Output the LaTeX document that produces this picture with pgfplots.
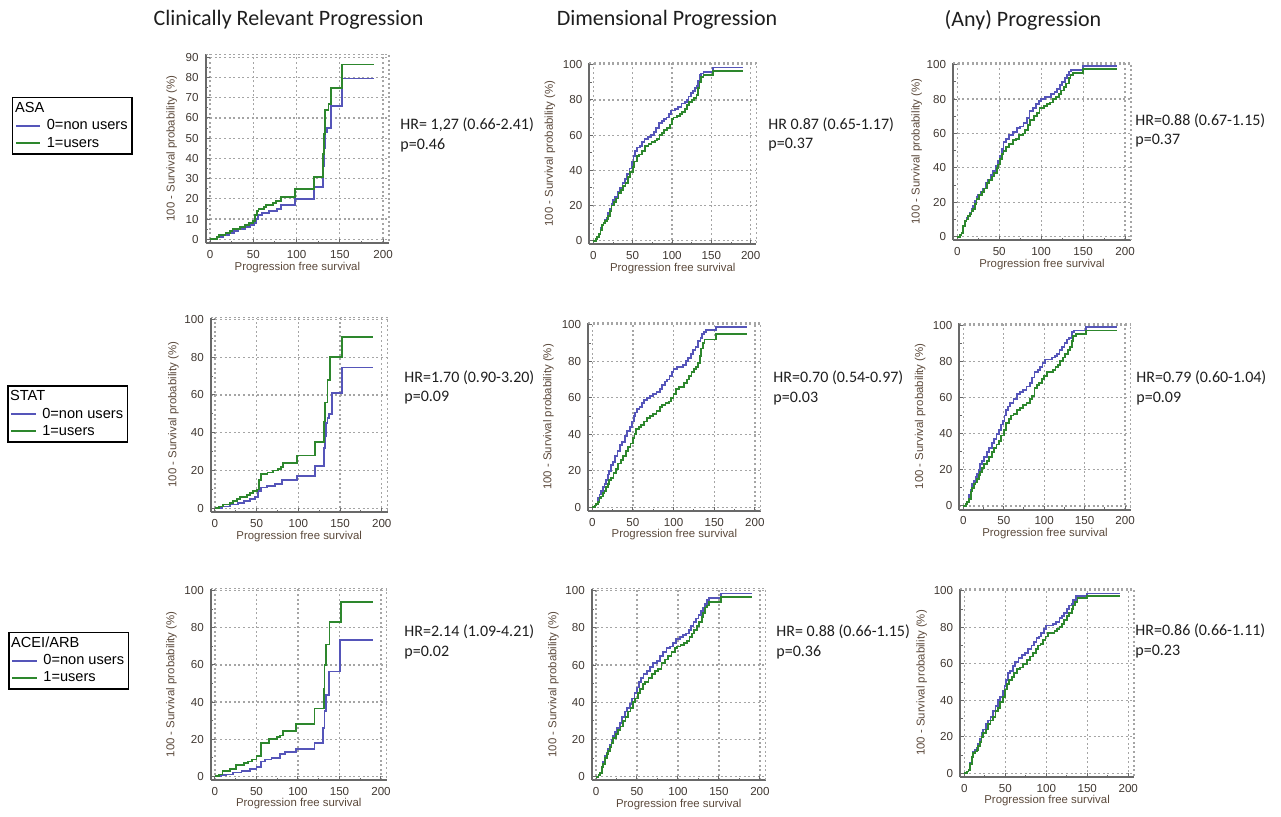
\documentclass[border=0pt]{standalone}
\usepackage{pgfplots}
\pgfplotsset{compat=1.18}
\usepackage{fontspec}
\setmainfont{Carlito}
\newfontfamily\arial{Liberation Sans}
\newcommand\tickfont{\arial\fontsize{5.8}{6.5}\selectfont}
\newcommand\labfont{\arial\fontsize{5.7}{6.5}\selectfont}
\newcommand\legfont{\arial\fontsize{7.3}{8.5}\selectfont}
\newcommand\hrfont{\fontsize{8}{9.6}\selectfont}
\newcommand\ttlfont{\fontsize{11}{13}\selectfont}
\definecolor{kmblue}{RGB}{85,85,185}
\definecolor{kmgreen}{RGB}{45,135,45}
\definecolor{axisgray}{RGB}{105,105,105}
\definecolor{gridgray}{RGB}{165,165,165}
\definecolor{tickcol}{RGB}{64,56,50}
\definecolor{labcol}{RGB}{90,72,58}
\definecolor{txtcol}{RGB}{30,30,30}
\pgfplotsset{
  km/.style={
    scale only axis, anchor=south west,
    xmin=-5, xmax=207, ymin=-2, ymax=101,
    xtick={0,50,100,150,200}, ytick={0,20,40,60,80,100},
    minor x tick num=1, minor y tick num=1,
    axis x line*=bottom, axis y line*=left,
    axis line style={draw=axisgray, line width=1pt},
    x axis line style={-}, y axis line style={-},
    grid=major, major grid style={dash pattern=on 1pt off 1.3pt, gridgray, line width=0.6pt},
    tick align=inside, major tick length=2pt, minor tick length=1.2pt,
    tick style={axisgray, line width=0.5pt},
    tick label style={font=\tickfont, text=tickcol},
    /pgf/number format/assume math mode=true,
    xlabel={Progression free survival},
    ylabel={100 - Survival probability (\%)},
    label style={font=\labfont, text=labcol},
    xlabel style={at={(axis description cs:0.5,0)}, anchor=center, yshift=-12pt},
    ylabel style={anchor=center},
    after end axis/.code={\draw[dash pattern=on 1pt off 1.3pt, gridgray, line width=0.6pt] (rel axis cs:0,1) -- (rel axis cs:1,1) -- (rel axis cs:1,0);},
    legend style={anchor=north west, draw=black, line width=0.8pt, font=\legfont, fill=white,
      inner xsep=1.2pt, inner ysep=1.2pt, row sep=0pt, column sep=1.8pt,
      nodes={font=\legfont, inner xsep=1pt, inner ysep=0.8pt, text height=5.5pt, text depth=1.5pt}},
    legend cell align=left,
  },
  kmline/.style={const plot, no marks, line width=0.9pt,
    legend image code/.code={\draw[##1] (0pt,0pt) -- (12.3pt,0pt);}},
  kb/.style={kmline, color=kmblue},
  kg/.style={kmline, color=kmgreen},
}
\begin{document}
\begin{tikzpicture}
\path[use as bounding box] (0pt,0pt) rectangle (640.5pt,-408pt);

% column titles
\node[font=\ttlfont, text=txtcol] at (144.25pt,-10pt) {Clinically Relevant Progression};
\node[font=\ttlfont, text=txtcol] at (333.5pt,-10pt) {Dimensional Progression};
\node[font=\ttlfont, text=txtcol] at (511.5pt,-10pt) {(Any) Progression};

% ===== Row 1: ASA =====
\begin{axis}[km, at={(102.85pt,-121.65pt)}, width=91.7pt, height=94.5pt,
  ymax=91.5, ytick={0,10,20,30,40,50,60,70,80,90},
  ylabel style={at={(axis description cs:-0.185,0.5)}},
  legend style={at={(axis description cs:-1.058,0.775)}}]
\addlegendimage{empty legend}\addlegendentry{\hspace{-16.1pt}ASA}
\addplot[kb] coordinates {(0,0) (8,1) (15,2) (22,3) (28,4) (33,5) (40,6) (46,7) (51,8) (53,10) (55,12) (60,13) (68,14) (77,15) (82,17) (98,20) (120,26) (131,36) (132,45) (133,53) (135,55) (140,66) (153,79.5) (190,79.5)};
\addlegendentry{0=non users\hspace{4pt}}
\addplot[kg] coordinates {(0,0) (8,1) (10,2) (18,3) (23,4) (26,5) (35,6) (40,7) (45,8) (50,9) (52,12) (54,14) (56,15) (62,16) (65,17) (73,18) (76,19) (82,21) (98,25) (120,31) (131,42) (132,52) (133,64) (137,67) (140,75) (153,86.5) (190,86.5)};
\addlegendentry{1=users}
\end{axis}

\begin{axis}[km, at={(294.7pt,-122.1pt)}, width=83.4pt, height=90.6pt,
  ylabel style={at={(axis description cs:-0.236,0.5)}}]
\addplot[kb] coordinates {(0,0) (3,1) (5,2) (7,4) (9,7) (11,9) (13,10) (15,12) (17,13) (19,16) (21,18) (23,21) (25,23) (28,25) (31,28) (34,30) (37,33) (40,35) (43,38) (46,41) (49,45) (51,48) (53,51) (55,53) (59,54) (62,56) (65,58) (69,59) (73,60) (77,62) (80,64) (83,67) (87,68) (90,69) (93,70) (96,72) (99,74) (104,75) (108,76) (112,78) (116,79) (119,80) (121,82) (124,84) (127,85) (129,87) (131,88) (133,91) (135,94) (137,95) (140,96) (152,98.5) (190,98.5)};
\addplot[kg] coordinates {(0,0) (3,1) (5,2) (7,4) (9,6) (11,9) (13,10) (15,11) (17,12) (19,14) (21,17) (23,20) (26,22) (29,24) (32,27) (35,29) (38,31) (41,33) (44,36) (47,39) (50,42) (52,45) (55,48) (58,49) (62,51) (66,54) (70,55) (74,56) (78,57) (81,58) (84,60) (87,61) (90,63) (94,64) (97,66) (100,69) (102,70) (106,71) (110,72) (113,73) (116,75) (119,77) (122,79) (125,80) (128,81) (131,83) (133,87) (135,90) (137,93) (140,94) (152,96.5) (190,96.5)};
\end{axis}

\begin{axis}[km, at={(476.55pt,-120.05pt)}, width=88.9pt, height=88.6pt,
  ylabel style={at={(axis description cs:-0.205,0.5)}}]
\addplot[kb] coordinates {(0,0) (3,1) (5,2) (7,6) (9,9) (11,11) (13,12) (15,14) (17,16) (19,18) (21,21) (23,23) (25,24) (28,26) (31,28) (34,31) (37,33) (40,36) (43,38) (46,41) (49,44) (51,47) (53,51) (55,55) (58,57) (62,59) (66,61) (71,63) (75,64) (79,66) (83,69) (86,73) (90,75) (94,77) (97,79) (100,80) (105,81) (109,81) (112,83) (116,84) (119,86) (122,88) (125,90) (128,92) (131,94) (133,96) (136,97) (150,99) (190,99)};
\addplot[kg] coordinates {(0,0) (3,1) (5,2) (7,6) (9,9) (11,10) (13,12) (15,13) (17,15) (19,16) (21,19) (23,22) (26,24) (29,26) (32,28) (35,31) (38,33) (41,35) (44,37) (47,40) (49,42) (51,45) (53,48) (55,50) (58,52) (62,54) (66,56) (70,57) (74,59) (78,60) (81,62) (84,65) (87,68) (91,70) (95,72) (98,75) (103,76) (107,77) (111,78) (114,80) (118,81) (121,83) (124,85) (127,87) (130,89) (133,92) (135,94) (138,95) (150,97.5) (190,97.5)};
\end{axis}

% ===== Row 2: STAT =====
\begin{axis}[km, at={(105.4pt,-256.05pt)}, width=88.4pt, height=97.3pt,
  ylabel style={at={(axis description cs:-0.212,0.5)}},
  legend style={at={(axis description cs:-1.152,0.653)}}]
\addlegendimage{empty legend}\addlegendentry{\hspace{-16.1pt}STAT}
\addplot[kb] coordinates {(0,0) (8,1) (18,2) (28,3) (35,4) (42,5) (48,6) (52,9) (55,11) (62,12) (72,13) (80,15) (98,17) (120,22.5) (131,32) (132,38) (133,45) (135,48) (137,50) (140,61) (152,74.5) (190,74.5)};
\addlegendentry{0=non users\hspace{4pt}}
\addplot[kg] coordinates {(0,0) (5,1) (10,2) (18,3) (22,4) (26,5) (30,6) (38,7) (42,8) (46,9) (50,10) (53,15) (55,18) (63,19) (70,20) (76,21) (79,22) (82,24) (98,28) (120,35) (131,46) (132,56) (135,68) (138,80) (152,90.5) (190,90.5)};
\addlegendentry{1=users}
\end{axis}

\begin{axis}[km, at={(294.1pt,-255.5pt)}, width=86.2pt, height=94pt,
  ylabel style={at={(axis description cs:-0.231,0.5)}}]
\addplot[kb] coordinates {(0,0) (3,1) (5,2) (7,5) (9,7) (11,9) (13,11) (15,13) (17,15) (19,18) (21,20) (23,23) (25,25) (28,28) (31,31) (34,34) (37,36) (40,39) (43,42) (46,44) (49,47) (51,50) (53,52) (55,54) (58,55) (61,57) (64,59) (67,60) (71,61) (75,62) (79,63) (83,65) (86,67) (89,69) (92,70) (95,72) (98,74) (100,76) (104,77) (108,77) (112,78) (115,80) (118,82) (121,84) (124,86) (127,88) (130,91) (133,93) (135,95) (137,96) (140,97) (152,99) (190,99)};
\addplot[kg] coordinates {(0,0) (3,1) (5,2) (7,3) (9,5) (11,6) (13,8) (15,9) (17,11) (19,13) (21,15) (23,16) (26,19) (29,21) (32,24) (35,26) (38,28) (41,31) (44,33) (47,35) (50,38) (52,40) (54,43) (57,44) (60,45) (64,47) (67,49) (71,50) (75,51) (79,53) (83,55) (86,56) (90,57) (94,58) (97,60) (100,62) (103,65) (107,66) (110,66) (113,68) (116,70) (119,72) (122,74) (125,76) (128,77) (130,79) (132,83) (134,87) (136,90) (138,92) (152,95) (190,95)};
\end{axis}

\begin{axis}[km, at={(479.65pt,-254.8pt)}, width=85.7pt, height=93.2pt,
  ylabel style={at={(axis description cs:-0.229,0.5)}}]
\addplot[kb] coordinates {(0,0) (3,1) (5,2) (7,6) (9,9) (11,12) (13,14) (15,16) (17,18) (19,20) (21,23) (23,25) (26,27) (29,30) (32,32) (35,35) (38,37) (41,40) (44,42) (47,45) (49,47) (51,50) (53,53) (55,55) (58,57) (62,59) (66,62) (70,63) (74,64) (78,66) (82,68) (85,71) (88,74) (92,75) (95,77) (98,79) (101,81) (106,81) (110,82) (113,83) (116,84) (119,86) (122,88) (125,90) (128,92) (131,93) (134,96) (137,97) (152,99) (190,99)};
\addplot[kg] coordinates {(0,0) (3,1) (5,2) (7,4) (9,8) (11,10) (13,12) (15,13) (17,15) (19,17) (21,19) (23,21) (26,23) (29,25) (32,27) (35,30) (38,32) (41,34) (44,36) (47,39) (50,42) (53,46) (56,48) (59,50) (62,51) (66,53) (70,54) (74,56) (78,57) (82,59) (85,61) (88,65) (91,67) (94,68) (97,70) (100,72) (103,74) (107,74) (111,75) (114,77) (117,78) (120,80) (123,82) (126,84) (129,86) (132,88) (134,91) (136,94) (139,95) (152,97) (190,97)};
\end{axis}

% ===== Row 3: ACEI/ARB =====
\begin{axis}[km, at={(105.4pt,-390pt)}, width=88pt, height=95.6pt,
  ylabel style={at={(axis description cs:-0.223,0.5)}},
  legend style={at={(axis description cs:-1.151,0.776)}}]
\addlegendimage{empty legend}\addlegendentry{\hspace{-16.1pt}ACEI/ARB}
\addplot[kb] coordinates {(0,0) (8,0.5) (14,1) (22,2) (32,3) (42,4) (50,5) (55,8) (60,9) (68,10) (78,12) (84,13) (98,14.5) (120,18) (130,26) (132,35) (134,44) (137,56.5) (151,73.5) (190,73.5)};
\addlegendentry{0=non users\hspace{4pt}}
\addplot[kg] coordinates {(0,0) (5,1) (9,3) (18,4) (25,6) (35,7) (40,8) (45,9) (50,11) (55,18) (65,20) (75,21) (78,22) (82,24.5) (98,28) (120,36.5) (131,47) (132,60) (134,71) (138,83) (152,94) (190,94)};
\addlegendentry{1=users}
\end{axis}

\begin{axis}[km, at={(295.95pt,-390.2pt)}, width=86.9pt, height=95.8pt,
  ylabel style={at={(axis description cs:-0.222,0.5)}}]
\addplot[kb] coordinates {(0,0) (3,1) (5,2) (7,5) (9,8) (11,11) (13,13) (15,15) (17,17) (19,20) (21,22) (23,24) (26,26) (29,29) (32,32) (35,35) (38,37) (41,39) (44,42) (47,45) (50,48) (52,51) (55,53) (58,55) (62,57) (66,59) (70,61) (74,62) (78,65) (82,67) (86,69) (90,70) (94,72) (98,74) (102,75) (106,76) (110,77) (113,79) (116,81) (119,83) (122,85) (125,87) (128,89) (131,91) (133,93) (135,95) (138,96) (152,98.5) (190,98.5)};
\addplot[kg] coordinates {(0,0) (3,1) (5,2) (7,5) (9,7) (11,10) (13,12) (15,14) (17,16) (19,18) (21,21) (24,23) (27,25) (30,27) (33,30) (36,32) (39,35) (42,37) (45,40) (48,42) (51,45) (54,47) (57,50) (60,51) (64,53) (68,55) (72,57) (76,58) (80,61) (84,63) (88,65) (92,67) (96,69) (99,70) (103,71) (107,72) (111,73) (114,75) (117,77) (120,79) (123,81) (126,83) (129,86) (131,88) (133,91) (135,92) (138,94) (152,96.5) (190,96.5)};
\end{axis}

\begin{axis}[km, at={(480.1pt,-388.5pt)}, width=86.9pt, height=94pt,
  ylabel style={at={(axis description cs:-0.222,0.5)}}]
\addplot[kb] coordinates {(0,0) (3,1) (5,2) (7,6) (9,9) (11,12) (13,13) (15,14) (17,16) (19,19) (21,22) (23,24) (26,27) (29,29) (32,31) (35,34) (38,37) (41,40) (44,42) (47,45) (49,48) (51,51) (53,55) (56,56) (59,59) (62,61) (66,63) (70,65) (74,66) (78,68) (82,70) (85,72) (88,74) (91,75) (94,77) (97,79) (100,81) (104,81) (108,82) (112,83) (116,85) (119,86) (122,88) (125,90) (128,92) (131,93) (133,95) (136,97) (150,98.5) (190,98.5)};
\addplot[kg] coordinates {(0,0) (3,1) (5,2) (7,5) (9,9) (11,11) (13,12) (15,13) (17,15) (19,17) (21,20) (23,22) (26,24) (29,27) (32,29) (35,31) (38,34) (41,36) (44,39) (47,42) (50,46) (52,49) (55,51) (58,53) (61,55) (64,57) (68,58) (72,60) (76,62) (80,64) (84,66) (87,68) (90,70) (93,71) (96,73) (99,75) (102,77) (106,77) (110,78) (113,79) (116,80) (119,82) (122,84) (125,86) (128,88) (131,90) (133,92) (135,94) (138,96) (150,97.3) (190,97.3)};
\end{axis}

% HR annotations
\begin{scope}[every node/.style={anchor=west, font=\hrfont, text=txtcol, inner sep=0pt}]
\node at (200pt,-62.5pt) {HR= 1,27 (0.66-2.41)};
\node at (200pt,-72.5pt) {p=0.46};
\node at (384pt,-62.5pt) {HR 0.87 (0.65-1.17)};
\node at (384pt,-72.5pt) {p=0.37};
\node at (567.5pt,-60.5pt) {HR=0.88 (0.67-1.15)};
\node at (567.5pt,-70.5pt) {p=0.37};
\node at (202pt,-189pt) {HR=1.70 (0.90-3.20)};
\node at (202pt,-199pt) {p=0.09};
\node at (386.5pt,-189pt) {HR=0.70 (0.54-0.97)};
\node at (386.5pt,-199.5pt) {p=0.03};
\node at (568pt,-189pt) {HR=0.79 (0.60-1.04)};
\node at (568pt,-199.5pt) {p=0.09};
\node at (202pt,-316pt) {HR=2.14 (1.09-4.21)};
\node at (202pt,-326.5pt) {p=0.02};
\node at (388pt,-316pt) {HR= 0.88 (0.66-1.15)};
\node at (388pt,-326pt) {p=0.36};
\node at (567.5pt,-315.5pt) {HR=0.86 (0.66-1.11)};
\node at (567.5pt,-326pt) {p=0.23};
\end{scope}
\end{tikzpicture}
\end{document}
